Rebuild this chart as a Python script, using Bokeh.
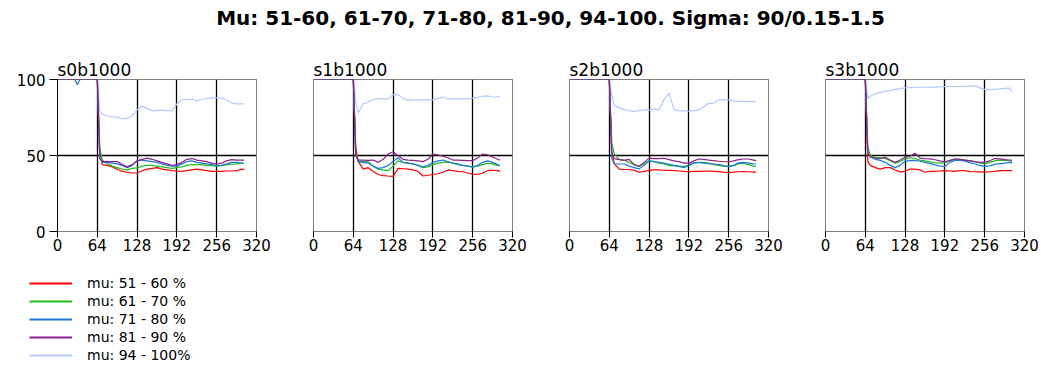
from bokeh.plotting import figure
from bokeh.models import Range1d, FixedTicker, Legend, LegendItem, Div
from bokeh.layouts import row, column
from bokeh.embed import file_html
from bokeh.resources import INLINE

# ---------------- data ----------------
X = [0, 16, 28, 32, 36, 48, 64, 68, 72, 80, 88, 96, 104, 112, 120, 128, 136, 144, 152,
     160, 168, 176, 184, 192, 200, 208, 216, 224, 232, 240, 248, 256, 264, 272, 280, 288, 296, 300]

panel_names = ["s0b1000", "s1b1000", "s2b1000", "s3b1000"]
series_labels = ["mu: 51 - 60 %", "mu: 61 - 70 %", "mu: 71 - 80 %", "mu: 81 - 90 %", "mu: 94 - 100%"]
x_ticks = [0, 64, 128, 192, 256, 320]
y_ticks = [0, 50, 100]

s0_red = [100, 100, 100, 100, 100, 100, 100,
          52, 44, 43.5, 42.5, 41, 39.5, 39, 38.5, 38.5, 40, 41, 41.5, 42, 41, 40.5, 40, 39.8, 39.5,
          40, 40.5, 41, 40.5, 40, 39.5, 39.5, 39.5, 39.8, 39.8, 40, 41, 40.8]
s0_green = [100, 100, 100, 100, 100, 100, 100,
            55, 47, 44.5, 43, 42, 41, 40.5, 41.5, 41.8, 43, 43.5, 43.5, 43, 42.5, 42, 41.5, 42, 42.5,
            43.5, 44, 44, 44, 43.5, 43.3, 43, 43.3, 44, 44.3, 44.5, 44.8, 44.8]
s0_blue = [100, 100, 100, 96.5, 100, 100, 100,
           50, 45.5, 45.5, 45, 44.5, 43.5, 42, 43.5, 46.5, 47, 46.5, 46, 45.5, 44.5, 43.5, 43, 43, 44.5,
           46, 46.5, 45.5, 45, 44.5, 44, 43.3, 43.5, 44.5, 45.5, 45.5, 45, 44.8]
s0_purple = [100, 100, 100, 100, 100, 100, 100,
             48, 46, 46, 46, 46, 44, 42.5, 44, 46.5, 47.5, 48.3, 47.5, 46.5, 45.5, 44.5, 43.5, 44, 45.5,
             47.5, 48, 47, 46.5, 46, 45, 44.4, 45, 46.5, 47.3, 47, 47, 47]
s0_light = [100, 100, 100, 100, 100, 100, 100,
            79, 77.3, 76, 75.5, 75.3, 74, 74.5, 76, 80, 82.5, 81, 79.5, 79.5, 80, 79.5, 79.5, 84, 86.5,
            87, 87, 86, 87, 87.5, 87.8, 88, 87.8, 86.5, 84.5, 84, 84, 84]

s1_red = [100, 100, 100, 100, 100, 100, 100,
          55, 46, 41, 42, 39.5, 37.5, 36.8, 36.5, 36.3, 41.5, 41.3, 41, 40.5, 39.5, 36.5, 37, 37.5, 38,
          39, 40.5, 40, 39.6, 39.3, 38.5, 37.8, 37.5, 38.5, 40, 40.3, 40, 39.6]
s1_green = [100, 100, 100, 100, 100, 100, 100,
            52, 46, 46, 46, 43, 41, 40.5, 40, 43, 46.5, 45.5, 45, 44.5, 43.5, 42, 42.5, 44, 45,
            45.5, 45.8, 45, 44, 43.5, 43, 42.5, 43, 44, 44.8, 44.5, 43.5, 43.3]
s1_blue = [100, 100, 100, 100, 100, 100, 100,
           50, 46, 45.5, 45, 43, 41.5, 42, 43.5, 46, 48.5, 45.5, 45, 44.5, 43.5, 42.5, 43.5, 45.5, 46.5,
           47, 45.8, 45, 44.5, 43.5, 43, 42.3, 43.5, 45.5, 46.5, 45.5, 44, 43.3]
s1_purple = [100, 100, 100, 100, 100, 100, 100,
             50, 47, 47, 46.8, 47, 45.5, 47.5, 51, 52.5, 50, 47.5, 47, 46.8, 46.5, 46, 47.5, 51, 50.5,
             49.5, 48.5, 47, 47, 46.8, 46.6, 46.6, 48.5, 51, 50.5, 49, 47.5, 47]
s1_light = [100, 100, 100, 100, 100, 100, 100,
            85, 78, 84, 85, 87, 87.5, 87.2, 87.2, 90, 90, 87.5, 86.3, 86.5, 86.6, 86.6, 86.6, 86.6, 87.5,
            88.5, 87.3, 87.2, 87.2, 87.2, 87.3, 87.8, 88.3, 89, 89.2, 88.5, 88.6, 88.8]

s2_red = [100, 100, 100, 100, 100, 100, 100,
          52, 44.5, 41, 40.8, 40.8, 40.2, 39, 39.5, 40.2, 40.5, 40.5, 40.3, 40.2, 40, 39.8, 39.6, 39.3, 39.5,
          39.6, 39.7, 39.8, 39.6, 39.4, 39, 38.7, 39, 39.3, 39.4, 39.3, 39.1, 39]
s2_green = [100, 100, 100, 100, 100, 100, 100,
            58, 51, 47.5, 47, 45.5, 44, 43, 44.5, 46.5, 46, 45, 44.5, 43.5, 43.2, 43, 42.8, 43.5, 45,
            45.5, 45.5, 45, 44, 43.5, 43, 42.8, 43.5, 44.5, 45, 44, 43, 42.8]
s2_blue = [100, 100, 100, 100, 100, 100, 100,
           48, 44.5, 44.4, 44.4, 43, 42, 41.2, 43.5, 46.5, 46, 45.5, 45, 44.2, 43.5, 42.8, 42, 43.5, 45.3,
           45.3, 45, 44.6, 44.4, 44, 43.3, 42.7, 43.5, 45.3, 45.3, 45, 44.5, 44.4]
s2_purple = [100, 100, 100, 100, 100, 100, 100,
             52, 48, 47.3, 46.8, 47.5, 44, 42.8, 45.5, 48.3, 48, 48, 48.2, 47.3, 46.5, 46, 45, 45, 46.5,
             47.7, 47.5, 47, 46.6, 46.2, 46, 45.9, 46.5, 47.3, 47.7, 47.7, 47, 46.6]
s2_light = [100, 100, 100, 100, 100, 100, 100,
            90, 83, 81.5, 80.2, 79.5, 79, 79.5, 80, 80, 80.5, 80, 87, 91, 80, 79.5, 79.3, 79.1, 79.5,
            79.8, 82, 84.3, 84.5, 86.6, 86.6, 86.6, 85.8, 85.6, 85.6, 85.5, 85.5, 85.5]

s3_red = [100, 100, 100, 100, 100, 100, 100,
          46, 43.5, 42, 41, 42, 42, 40.5, 39.2, 39.6, 41.1, 41, 40.5, 39, 39.5, 39.6, 39.8, 40, 39.8,
          39.6, 40, 40, 39.4, 39.3, 39.2, 39, 39.3, 39.6, 40, 40, 40, 40]
s3_green = [100, 100, 100, 100, 100, 100, 100,
            56, 50, 48.8, 48.5, 48, 46.5, 45, 46, 47.7, 48.5, 48, 47, 46.5, 45.8, 45.3, 45, 45.3, 46.5,
            47.7, 47.5, 47, 46.6, 46, 45.2, 44.5, 45.3, 46.5, 47, 46.8, 46.4, 46.2]
s3_blue = [100, 100, 100, 100, 100, 100, 100,
           52, 49, 47.5, 46.8, 45.5, 43.5, 42, 43.5, 46.3, 46.6, 46.8, 46.2, 45.5, 44.8, 43.8, 43, 42.8, 45.5,
           46.8, 47, 46.3, 45.3, 44.4, 43.5, 42.8, 43.2, 44.2, 44.6, 45, 45.3, 45.3]
s3_purple = [100, 100, 100, 100, 100, 100, 100,
             52, 49, 48.2, 48, 48.8, 47, 45.5, 47, 48.8, 49.5, 51.5, 48.3, 48, 47.8, 47.2, 46.5, 45.9, 46.8,
             47.7, 47.5, 47, 46.5, 46, 45.5, 45.5, 46.5, 48, 47.8, 47.3, 47, 47]
s3_light = [100, 100, 100, 100, 100, 100, 100,
            87.5, 89, 90.5, 91.5, 92.3, 92.7, 93.5, 94, 94.5, 94.7, 94.9, 94.9, 94.9, 94.9, 95, 95.1, 95.3, 95.4,
            95.4, 95.4, 95.4, 95.6, 95.8, 94.5, 93.5, 93.3, 93.6, 93.8, 94.2, 94.3, 91.6]

panels = [
    [s0_red, s0_green, s0_blue, s0_purple, s0_light],
    [s1_red, s1_green, s1_blue, s1_purple, s1_light],
    [s2_red, s2_green, s2_blue, s2_purple, s2_light],
    [s3_red, s3_green, s3_blue, s3_purple, s3_light],
]

colors = ["#ff0000", "#1fbf1f", "#1f78d8", "#8e1f8e", "#b4c8ff"]

FONT = "DejaVu Sans"

# ---------------- layout ----------------
borders_left = [57, 39, 39, 39]
borders_right = [18, 18, 18, 17]
FRAME_W = 199
TOP = 34
FRAME_H = 152
BOTTOM = 38

figs = []
for i, (name, series) in enumerate(zip(panel_names, panels)):
    p = figure(width=borders_left[i] + FRAME_W + borders_right[i],
               height=TOP + FRAME_H + BOTTOM,
               x_range=Range1d(0, 320), y_range=Range1d(0, 100),
               output_backend="svg", toolbar_location=None,
               min_border_left=borders_left[i], min_border_right=borders_right[i],
               min_border_top=TOP, min_border_bottom=BOTTOM)
    p.background_fill_color = "white"
    p.border_fill_color = "white"
    p.outline_line_color = "black"
    p.outline_line_dash = "1 1"
    p.outline_line_width = 1

    p.title.text = name
    p.title.text_font = FONT
    p.title.text_font_size = "17px"
    p.title.text_font_style = "normal"
    p.title.text_color = "black"
    p.title.align = "left"
    p.title.standoff = 0
    p.title.offset = 0

    # grids
    p.xgrid.ticker = FixedTicker(ticks=[0, 64, 128, 192, 256])
    p.ygrid.ticker = FixedTicker(ticks=[50])
    p.xgrid.grid_line_color = "black"
    p.ygrid.grid_line_color = "black"
    p.xgrid.grid_line_width = 1.3
    p.ygrid.grid_line_width = 1.3

    # x axis
    xa = p.xaxis[0]
    xa.ticker = FixedTicker(ticks=x_ticks)
    xa.axis_line_color = None
    xa.major_tick_out = 6
    xa.major_tick_in = 0
    xa.major_tick_line_color = "black"
    xa.minor_tick_line_color = None
    xa.major_label_text_font = FONT
    xa.major_label_text_font_size = "15px"
    xa.major_label_text_color = "black"
    xa.major_label_standoff = 1

    ya = p.yaxis[0]
    if i == 0:
        ya.ticker = FixedTicker(ticks=y_ticks)
        ya.axis_line_color = "black"
        ya.major_tick_out = 8
        ya.major_tick_in = 0
        ya.major_tick_line_color = "black"
        ya.minor_tick_line_color = None
        ya.major_label_text_font = FONT
        ya.major_label_text_font_size = "15px"
        ya.major_label_text_color = "black"
        ya.major_label_standoff = 4
    else:
        ya.visible = False

    # light blue drawn first so darker lines sit on top at 100
    for k in [4, 0, 1, 2, 3]:
        p.line(X, series[k], line_color=colors[k], line_width=1.2)
    figs.append(p)

# legend panel below the plots: it repeats the first panel's series, whose
# x values lie outside this panel's view, so only the legend keys show
leg = figure(width=260, height=100, x_range=Range1d(1000, 1001), y_range=Range1d(0, 1),
             output_backend="svg", toolbar_location=None,
             min_border_left=0, min_border_right=0, min_border_top=0, min_border_bottom=0)
leg.axis.visible = False
leg.grid.visible = False
leg.outline_line_color = None
leg.background_fill_color = "white"
leg.border_fill_color = "white"
keys = [leg.line(X, panels[0][k], line_color=colors[k], line_alpha=1.0, line_width=2) for k in range(5)]
legend = Legend(items=[LegendItem(label=series_labels[k], renderers=[keys[k]]) for k in range(5)],
                location=(29, 5),
                glyph_width=43, glyph_height=18, label_height=18,
                label_standoff=15, spacing=0, padding=0, margin=0,
                label_text_font=FONT, label_text_font_size="14px",
                label_text_color="black",
                border_line_alpha=0, background_fill_alpha=0)
leg.add_layout(legend)

title_html = ('<div style="box-sizing:border-box;width:1041px;padding-left:60px;padding-top:6px;'
              'text-align:center;font-family:\'DejaVu Sans\';font-weight:bold;font-size:20px;'
              'line-height:normal;white-space:nowrap;color:black;">'
              'Mu: 51-60, 61-70, 71-80, 81-90, 94-100. Sigma: 90/0.15-1.5</div>')
header = Div(text=title_html, width=1041, height=45, margin=(0, 0, 0, 0))

layout = column(header, row(*figs, spacing=0), leg, spacing=0)

open("out.html", "w").write(file_html(layout, INLINE))
